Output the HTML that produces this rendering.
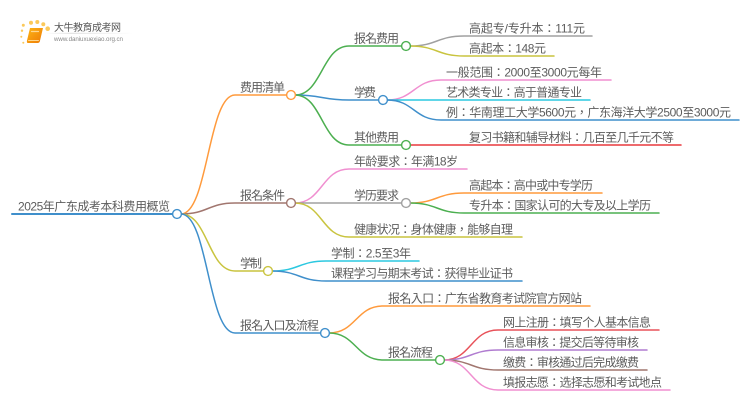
<!DOCTYPE html>
<html><head><meta charset="utf-8"><style>
html,body{margin:0;padding:0;background:#fff;width:750px;height:410px;overflow:hidden}
svg{display:block}
text{font-family:"Liberation Sans","Noto Sans CJK TC",sans-serif;font-size:12px;fill:#5c5c5c}
path{fill:none;stroke-linecap:round}
circle.n{fill:#fff;stroke-width:1.4}
.w{stroke-width:1.5}
</style></head><body>
<svg width="750" height="410" viewBox="0 0 750 410" xmlns="http://www.w3.org/2000/svg">
<defs><linearGradient id="g" x1="0" x2="1"><stop offset="0" stop-color="#ddd" stop-opacity="0"/><stop offset=".3" stop-color="#ddd"/><stop offset="1" stop-color="#ddd" stop-opacity="0"/></linearGradient>
<linearGradient id="b" x1="0" x2="1" y1="0" y2="1"><stop offset="0" stop-color="#fdb515"/><stop offset="1" stop-color="#ee7a05"/></linearGradient></defs>

<!-- logo -->
<g fill="#fbc95a">
<circle cx="23.3" cy="25.3" r="1.5"/><circle cx="31" cy="22.7" r="2"/><circle cx="37.3" cy="22" r="2"/><circle cx="43.3" cy="24.3" r="2"/><circle cx="47.7" cy="28.7" r="2.3"/><circle cx="22" cy="30.7" r="1.2"/><circle cx="21.3" cy="36.7" r="1"/><circle cx="23.3" cy="42.7" r="1"/>
</g>
<path d="M30 28H43L39.8 41.5Q39.3 43 37.5 43H28Q26.5 43 27 40.5Z" style="fill:url(#b)"/>
<path d="M28.5 40.5H38.5" style="stroke:#ffd890;stroke-width:.9"/>
<path d="M31.5 31.5H38.5" style="stroke:#ffd890;stroke-width:1.2"/>
<rect x="45" y="32.8" width="88" height="1" fill="url(#g)"/>
<text x="54" y="31" textLength="67" style="font-size:10px;fill:#555">大牛教育成考网</text>
<text x="54" y="41" textLength="69" style="font-size:6.2px;fill:#888">www.daniuxuexiao.org.cn</text>

<!-- root -->
<path d="M12 214H173" stroke="#3f8fcb" stroke-width="2"/>
<!-- level 1 -->
<path class="w" stroke="#ff9a3c" d="M181 214C208 214 208 95 235 95H287"/>
<path class="w" stroke="#a1766f" d="M181 214C208 214 208 203 235 203H287"/>
<path class="w" stroke="#c9c43f" d="M181 214C208 214 208 271 235 271H264"/>
<path class="w" stroke="#3f8fcb" d="M181 214C208 214 208 333 235 333H321"/>
<!-- 费用清单 -->
<path class="w" stroke="#4caf50" d="M295 95C322 95 322 46 349 46H402"/>
<path class="w" stroke="#3f8fcb" d="M295 95C322 95 322 100 349 100H379"/>
<path class="w" stroke="#4caf50" d="M295 95C322 95 322 145 349 145H402"/>
<path class="w" stroke="#a0a0a0" d="M410 46C437 46 437 36 464 36H592"/>
<path class="w" stroke="#c9c43f" d="M410 46C437 46 437 56 464 56H554"/>
<path class="w" stroke="#f08fd0" d="M387 100C414 100 414 80 441 80H611"/>
<path class="w" stroke="#2cc8e0" d="M387 100H590"/>
<path class="w" stroke="#3f8fcb" d="M387 100C414 100 414 120 441 120H739"/>
<path class="w" stroke="#e8383d" d="M410 145H681"/>
<!-- 报名条件 -->
<path class="w" stroke="#f08fd0" d="M295 203C322 203 322 169 349 169H467"/>
<path class="w" stroke="#a0a0a0" d="M295 203H402"/>
<path class="w" stroke="#c9c43f" d="M295 203C322 203 322 237 349 237H522"/>
<path class="w" stroke="#ff9a3c" d="M410 203C437 203 437 193 464 193H602"/>
<path class="w" stroke="#4caf50" d="M410 203C437 203 437 213 464 213H659"/>
<!-- 学制 -->
<path class="w" stroke="#2cc8e0" d="M272 271C299 271 299 261 326 261H419"/>
<path class="w" stroke="#3f8fcb" d="M272 271C299 271 299 281 326 281H522"/>
<!-- 流程 -->
<path class="w" stroke="#ff9a3c" d="M329 333C356 333 356 306 383 306H590"/>
<path class="w" stroke="#4caf50" d="M329 333C356 333 356 360 383 360H436"/>
<path class="w" stroke="#e8525a" d="M444 360C471 360 471 330 498 330H659"/>
<path class="w" stroke="#b07cd0" d="M444 360C471 360 471 350 498 350H647"/>
<path class="w" stroke="#a1766f" d="M444 360C471 360 471 370 498 370H647"/>
<path class="w" stroke="#f08fd0" d="M444 360C471 360 471 390 498 390H670"/>

<!-- nodes -->
<circle class="n" cx="177" cy="214" r="4.4" stroke="#3f8fcb"/>
<circle class="n" cx="291" cy="95" r="4.4" stroke="#ff9a3c"/>
<circle class="n" cx="291" cy="203" r="4.4" stroke="#a1766f"/>
<circle class="n" cx="268" cy="271" r="4.4" stroke="#c9c43f"/>
<circle class="n" cx="325" cy="333" r="4.4" stroke="#3f8fcb"/>
<circle class="n" cx="406" cy="46" r="4.4" stroke="#4caf50"/>
<circle class="n" cx="383" cy="100" r="4.4" stroke="#3f8fcb"/>
<circle class="n" cx="406" cy="145" r="4.4" stroke="#4caf50"/>
<circle class="n" cx="406" cy="203" r="4.4" stroke="#a0a0a0"/>
<circle class="n" cx="440" cy="360" r="4.4" stroke="#4caf50"/>

<!-- labels -->
<text x="18" y="210.5" textLength="152">2025年广东成考本科费用概览</text>
<text x="240" y="91.5" textLength="45">费用清单</text>
<text x="240" y="199.5" textLength="45">报名条件</text>
<text x="240" y="267.5" textLength="22">学制</text>
<text x="240" y="329.5" textLength="79">报名入口及流程</text>
<text x="354" y="42.5" textLength="45">报名费用</text>
<text x="354" y="96.5" textLength="22">学费</text>
<text x="354" y="141.5" textLength="45">其他费用</text>
<text x="469" y="32.5" textLength="116">高起专/专升本：111元</text>
<text x="469" y="52.5" textLength="77">高起本：148元</text>
<text x="446" y="76.5" textLength="156">一般范围：2000至3000元每年</text>
<text x="446" y="96.5" textLength="136">艺术类专业：高于普通专业</text>
<text x="446" y="116.5" textLength="285">例：华南理工大学5600元，广东海洋大学2500至3000元</text>
<text x="469" y="141.5" textLength="205">复习书籍和辅导材料：几百至几千元不等</text>
<text x="354" y="165.5" textLength="104">年龄要求：年满18岁</text>
<text x="354" y="199.5" textLength="45">学历要求</text>
<text x="354" y="233.5" textLength="159">健康状况：身体健康，能够自理</text>
<text x="469" y="189.5" textLength="124">高起本：高中或中专学历</text>
<text x="469" y="209.5" textLength="182">专升本：国家认可的大专及以上学历</text>
<text x="331" y="257.5" textLength="80">学制：2.5至3年</text>
<text x="331" y="277.5" textLength="182">课程学习与期末考试：获得毕业证书</text>
<text x="388" y="302.5" textLength="194">报名入口：广东省教育考试院官方网站</text>
<text x="388" y="356.5" textLength="45">报名流程</text>
<text x="503" y="326.5" textLength="148">网上注册：填写个人基本信息</text>
<text x="503" y="346.5" textLength="136">信息审核：提交后等待审核</text>
<text x="503" y="366.5" textLength="136">缴费：审核通过后完成缴费</text>
<text x="503" y="386.5" textLength="159">填报志愿：选择志愿和考试地点</text>
</svg>
</body></html>
